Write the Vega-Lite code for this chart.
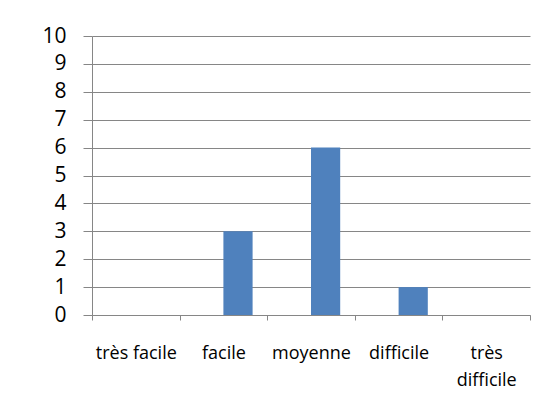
{
  "$schema": "https://vega.github.io/schema/vega-lite/v6.json",
  "width": 438,
  "height": 279,
  "autosize": "none",
  "padding": {"left": 92, "top": 36, "right": 22, "bottom": 102},
  "background": "white",
  "config": {"view": {"stroke": null}, "font": "Open Sans"},
  "data": {"values": [
    {"niveau": "très facile", "nombre": 0},
    {"niveau": "facile", "nombre": 3},
    {"niveau": "moyenne", "nombre": 6},
    {"niveau": "difficile", "nombre": 1},
    {"niveau": "très difficile", "nombre": 0}
  ]},
  "mark": {"type": "bar", "color": "#4F81BD"},
  "encoding": {
    "x": {
      "field": "niveau", "type": "nominal", "sort": null,
      "scale": {"paddingInner": 0, "paddingOuter": 0},
      "axis": {
        "title": null, "labelAngle": 0, "tickBand": "extent", "grid": false,
        "domainColor": "#868686", "tickColor": "#868686", "tickSize": 5,
        "labelFont": "Open Sans", "labelFontSize": 18, "labelColor": "#000000",
        "labelPadding": 24, "labelBaseline": "top", "labelLineHeight": 27, "labelOverlap": false,
        "labelExpr": "datum.label == 'très difficile' ? ['très', 'difficile'] : datum.label"
      }
    },
    "xOffset": {"datum": "b", "scale": {"domain": ["a", "b"], "paddingInner": 0, "paddingOuter": 0.5}},
    "y": {
      "field": "nombre", "type": "quantitative",
      "scale": {"domain": [0, 10], "nice": false},
      "axis": {
        "title": null, "values": [0, 1, 2, 3, 4, 5, 6, 7, 8, 9, 10], "grid": true,
        "gridColor": "#868686", "gridOpacity": 1, "domainColor": "#868686", "tickColor": "#868686", "tickSize": 9,
        "labelFont": "Open Sans", "labelFontSize": 21, "labelPadding": 17, "labelColor": "#000000"
      }
    }
  }
}
